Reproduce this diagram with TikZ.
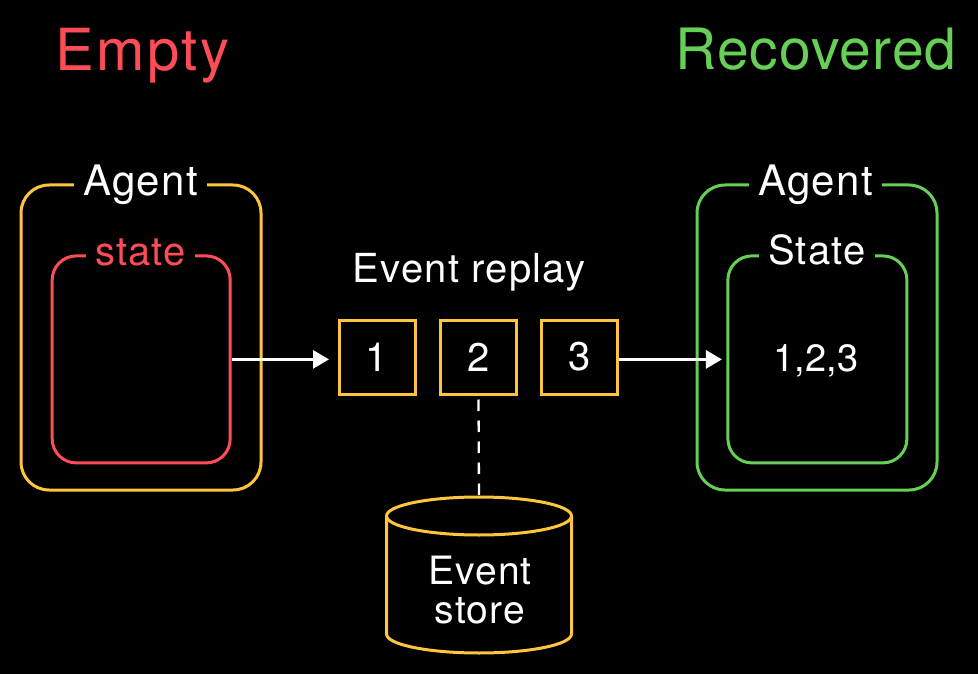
\documentclass[tikz,border=0pt]{standalone}
\usepackage{fontspec}
\setmainfont{TeX Gyre Heros}
\newfontfamily\headf[LetterSpace=2]{TeX Gyre Heros}
\newfontfamily\headwf[LetterSpace=4]{TeX Gyre Heros}
\newfontfamily\lblf[LetterSpace=3]{TeX Gyre Heros}
\newfontfamily\numf{TeX Gyre Heros}
\usetikzlibrary{arrows.meta}
\definecolor{cred}{HTML}{FF4D58}
\definecolor{cyel}{HTML}{FFC53D}
\definecolor{cgrn}{HTML}{66CF55}
\begin{document}
\begin{tikzpicture}[x=1pt,y=-1pt,
  frame/.style={draw=#1, line width=3pt, inner sep=0pt},
  outerbox/.style={frame=#1, rounded corners=28pt, minimum width=240pt, minimum height=305pt},
  innerbox/.style={frame=#1, rounded corners=24pt, minimum width=178pt, minimum height=207pt},
  evbox/.style={frame=cyel, minimum width=76pt, minimum height=74pt, text=white, font=\numf\fontsize{40}{42}\selectfont},
  gaplabel/.style={fill=black, inner xsep=9pt, inner ysep=0pt, anchor=base},
  lbl/.style={text=white, font=\lblf\fontsize{40}{42}\selectfont},
  head/.style={anchor=base, font=\headf\fontsize{57}{60}\selectfont},
  arr/.style={draw=white, line width=3pt, -{Triangle[length=16pt,width=18pt]}},
  dashline/.style={draw=white, line width=2.3pt, dash pattern=on 11.5pt off 9.5pt}
]
\fill[black] (0,0) rectangle (978,674);
\useasboundingbox (0,0) rectangle (978,674);

% headings
\node[head, text=cred, font=\headwf\fontsize{58}{60}\selectfont] (empty) at (142.5,70.5) {Empty};
\node[head, text=cgrn] (recovered) at (816,70) {Recovered};

% left agent
\node[outerbox=cyel] (agentL) at (141,337.5) {};
\node[innerbox=cred] (stateL) at (141.2,359.4) {};
\node[gaplabel, lbl, font=\lblf\fontsize{42}{44}\selectfont] (agentLlbl) at (140.5,196) {Agent};
\node[gaplabel, lbl, text=cred] (stateLlbl) at (140.5,265) {state};

% right agent
\node[outerbox=cgrn] (agentR) at (817,337.5) {};
\node[innerbox=cgrn, minimum width=179pt] (stateR) at (817.4,359.4) {};
\node[gaplabel, lbl, font=\lblf\fontsize{42}{44}\selectfont] (agentRlbl) at (815.5,196) {Agent};
\node[gaplabel, lbl] (stateRlbl) at (817,264) {State};
\node[lbl, anchor=base, font=\numf\fontsize{38}{40}\selectfont] (recval) at (816,371.5) {1,2,3};

% event replay
\node[lbl, anchor=base] (replay) at (469,282) {Event replay};
\node[evbox] (e1) at (377,357) {1};
\node[evbox] (e2) at (478.5,357) {2};
\node[evbox] (e3) at (579.5,357) {3};

% arrows
\draw[arr, shorten >=8.5pt] (stateL.east) -- (stateL.east -| e1.west);
\draw[arr, shorten >=4.5pt] (e3.east |- stateR.west) -- (stateR.west);

% event store cylinder
\coordinate (cyltop) at (479,497);
\draw[cyel, line width=3pt] (386.5,516) -- (386.5,634) arc[start angle=180, end angle=0, x radius=92.5, y radius=19] -- (571.5,516);
\draw[cyel, line width=3pt] (479,516) ellipse[x radius=92.5, y radius=19];
\node[lbl, align=center, font=\lblf\fontsize{39}{39}\selectfont] (store) at (480,590) {Event\\store};

% dashed link
\draw[dashline, shorten <=4pt, shorten >=2pt] (e2.south) -- (cyltop);
\end{tikzpicture}
\end{document}
